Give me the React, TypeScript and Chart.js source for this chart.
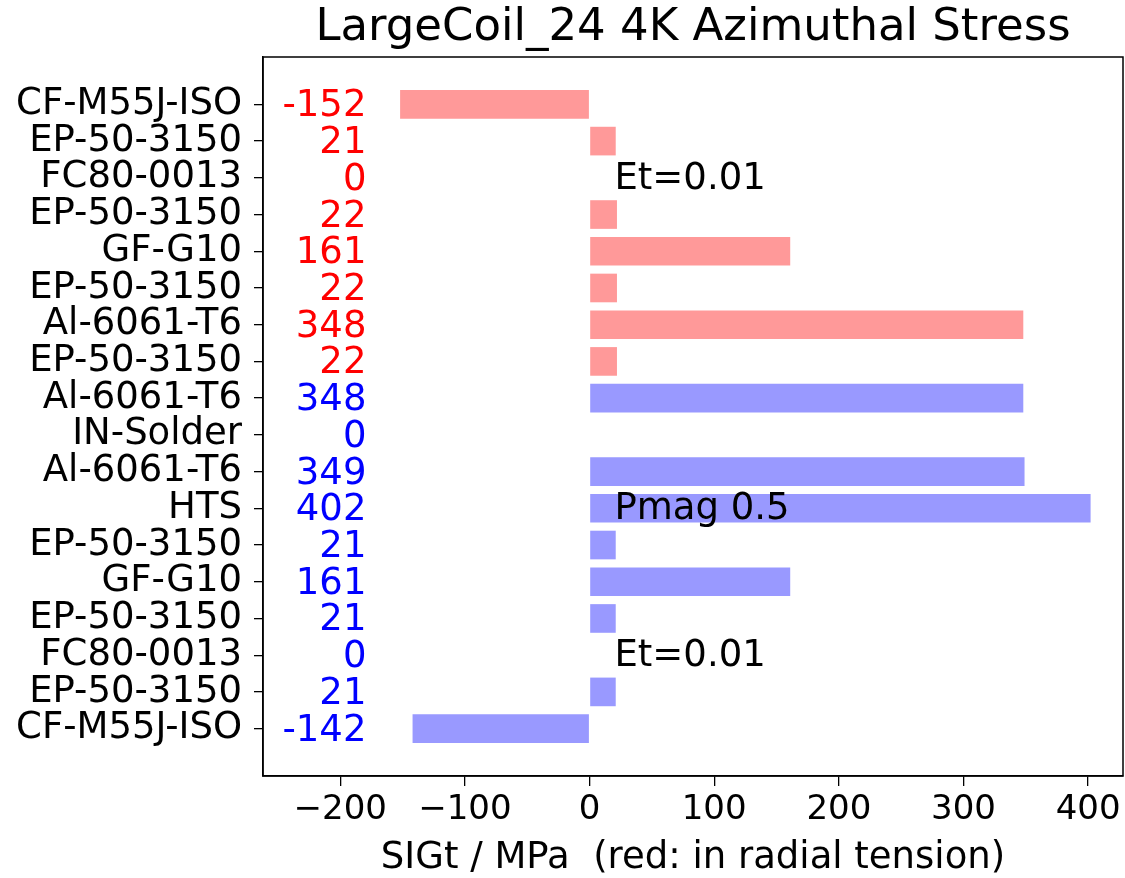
import React, { useEffect, useRef } from "react";
import { Chart, registerables } from "chart.js";

Chart.register(...registerables);

const TITLE = "LargeCoil_24 4K Azimuthal Stress";
const X_LABEL = "SIGt / MPa  (red: in radial tension)";

const categories = [
  "CF-M55J-ISO", "EP-50-3150", "FC80-0013", "EP-50-3150", "GF-G10", "EP-50-3150",
  "Al-6061-T6", "EP-50-3150", "Al-6061-T6", "IN-Solder", "Al-6061-T6", "HTS",
  "EP-50-3150", "GF-G10", "EP-50-3150", "FC80-0013", "EP-50-3150", "CF-M55J-ISO",
];
const values = [-152, 21, 0, 22, 161, 22, 348, 22, 348, 0, 349, 402, 21, 161, 21, 0, 21, -142];
const inTension = [true, true, true, true, true, true, true, true, false, false, false, false, false, false, false, false, false, false];
const notes = ["", "", "Et=0.01", "", "", "", "", "", "", "", "", "Pmag 0.5", "", "", "", "Et=0.01", "", ""];
const xTicks = [-200, -100, 0, 100, 200, 300, 400];

const X_MIN = -262;
const X_MAX = 428;
const Y_MIN = -1.29;
const Y_MAX = 18.29;
const LABEL_X = -179;
const NOTE_X = 20;

const FONT = "'DejaVu Sans', sans-serif";
const BAR_RED = "#ff9999";
const BAR_BLUE = "#9999ff";

export default function App() {
  const ref = useRef<HTMLCanvasElement | null>(null);

  useEffect(() => {
    if (!ref.current) return;
    const overlay = {
      id: "overlay",
      afterDraw(chart: any) {
        const ctx = chart.ctx as CanvasRenderingContext2D;
        const xs = chart.scales.x;
        const ys = chart.scales.y;
        const area = chart.chartArea;
        ctx.save();
        ctx.strokeStyle = "#000";
        ctx.lineWidth = 1.5;
        ctx.strokeRect(area.left, area.top, area.right - area.left, area.bottom - area.top);
        ctx.font = `37px ${FONT}`;
        ctx.textBaseline = "alphabetic";
        values.forEach((v, i) => {
          ctx.textAlign = "right";
          ctx.fillStyle = inTension[i] ? "#ff0000" : "#0000ff";
          ctx.fillText(String(v), xs.getPixelForValue(LABEL_X), ys.getPixelForValue(i) + 12);
        });
        ctx.fillStyle = "#000";
        ctx.textAlign = "left";
        notes.forEach((n, i) => {
          if (!n) return;
          ctx.fillText(n, xs.getPixelForValue(NOTE_X), ys.getPixelForValue(i) + 11);
        });
        ctx.font = `45px ${FONT}`;
        ctx.textAlign = "center";
        ctx.fillText(TITLE, (area.left + area.right) / 2, 40);
        ctx.restore();
      },
    };

    const chart = new Chart(ref.current, {
      type: "bar",
      data: {
        datasets: [
          {
            data: values.map((v, i) => ({ x: v, y: i })),
            backgroundColor: values.map((_, i) => (inTension[i] ? BAR_RED : BAR_BLUE)),
            borderWidth: 0,
            barPercentage: 0.78,
            categoryPercentage: 1,
          },
        ],
      },
      options: {
        indexAxis: "y",
        responsive: false,
        animation: false,
        devicePixelRatio: 1,
        layout: { padding: { top: 57, right: 2, left: 0, bottom: 0 } },
        plugins: { legend: { display: false }, tooltip: { enabled: false }, title: { display: false } },
        scales: {
          x: {
            type: "linear",
            min: X_MIN,
            max: X_MAX,
            offset: false,
            grid: { offset: false, drawOnChartArea: false, drawTicks: true, tickLength: 10, color: "#000", lineWidth: 1.3 },
            border: { display: true, color: "#000", width: 1.5 },
            ticks: {
              includeBounds: false,
              autoSkip: false,
              maxRotation: 0,
              color: "#000",
              padding: 4,
              font: { family: FONT, size: 34 },
              callback: (v: any) => (Number(v) < 0 ? "\u2212" + Math.abs(Number(v)) : String(v)),
            },
            afterBuildTicks: (s: any) => {
              s.ticks = xTicks.map((v) => ({ value: v }));
            },
            afterFit: (s: any) => {
              s.height = 102;
            },
            title: {
              display: true,
              text: X_LABEL,
              color: "#000",
              font: { family: FONT, size: 37 },
              padding: { top: 0, bottom: -3 },
            },
          },
          y: {
            type: "linear",
            reverse: true,
            min: Y_MIN,
            max: Y_MAX,
            offset: false,
            grid: { offset: false, drawOnChartArea: false, drawTicks: true, tickLength: 9, color: "#000", lineWidth: 1.3 },
            border: { display: true, color: "#000", width: 1.5 },
            ticks: {
              includeBounds: false,
              autoSkip: false,
              color: "#000",
              padding: 12,
              font: { family: FONT, size: 37 },
              callback: (v: any) => categories[Number(v)] ?? "",
            },
            afterBuildTicks: (s: any) => {
              s.ticks = categories.map((_, i) => ({ value: i }));
            },
            afterFit: (s: any) => {
              s.width = 263;
            },
          },
        },
      },
      plugins: [overlay],
    } as any);
    return () => chart.destroy();
  }, []);

  return (
    <div style={{ position: "absolute", left: 0, top: 0, width: 1125, height: 878, background: "#fff" }}>
      <canvas ref={ref} width={1125} height={878} />
    </div>
  );
}
